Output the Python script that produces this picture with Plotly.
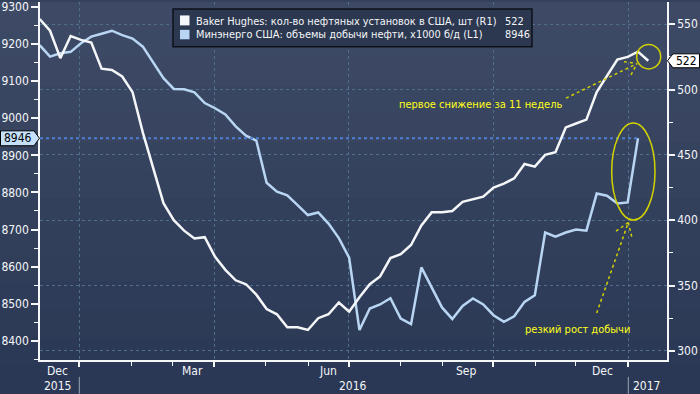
import plotly.graph_objects as go
import pandas as pd

# ---------------- data ----------------
series_names = [
    "Baker Hughes: кол-во нефтяных установок в США, шт (R1)",
    "Минэнерго США: объемы добычи нефти, x1000 б/д (L1)",
]
first_week = "2015-11-27"
# Baker Hughes oil rigs, weekly (right axis)
rig_count = [554, 545, 524, 541, 538, 536, 516, 515, 510, 498,
             467, 439, 413, 400, 392, 386, 387, 372, 362, 354,
             351, 343, 332, 328, 318, 318, 316, 325, 328, 337,
             330, 341, 351, 357, 371, 374, 381, 396, 406, 406,
             407, 414, 416, 418, 425, 428, 432, 443, 441, 450,
             452, 471, 474, 477, 498, 510, 523, 525, 529, 522]
# EIA weekly crude output, thousand b/d (left axis)
oil_output = [9197, 9166, 9175, 9179, 9202, 9220, 9228, 9236, 9224, 9215,
              9193, 9152, 9108, 9079, 9078, 9070, 9041, 9027, 9010, 8978,
              8953, 8940, 8826, 8802, 8792, 8766, 8739, 8746, 8716, 8677,
              8624, 8429, 8487, 8498, 8515, 8460, 8445, 8598, 8545, 8490,
              8459, 8494, 8514, 8498, 8469, 8451, 8466, 8505, 8523, 8692,
              8681, 8692, 8700, 8697, 8797, 8791, 8770, 8773, 8946]
month_labels = ["Dec", "Mar", "Jun", "Sep", "Dec"]
year_labels = ["2015", "2016", "2017"]
note_labels = ["первое снижение за 11 недель", "резкий рост добычи"]
left_ticks = list(range(8400, 9301, 100))
right_ticks = list(range(300, 551, 50))

rig_dates = pd.date_range(first_week, periods=len(rig_count), freq="7D")
oil_dates = pd.date_range(first_week, periods=len(oil_output), freq="7D")

# ---------------- geometry helpers ----------------
W, H = 700, 394
L, R, T, B = 40, 667, 0, 360
def px(x): return (x - L) / (R - L)
def py(y): return (B - y) / (B - T)

base = pd.Timestamp(first_week)
WEEK_PX = 10.315
FIRST_PX = 39.7
def pdate(x):
    return base + pd.Timedelta(days=(x - FIRST_PX) * 7 / WEEK_PX)

FONT = "DejaVu Sans Condensed, Liberation Sans Narrow, DejaVu Sans"
WHITE = "#f4f6f8"
BLUE = "#b8d6f3"
YEL = "#ffff1a"
YEL_LINE = "#d2d200"
GRID = "#4f6e89"

major_px = [79.3, 214.3, 348.7, 493.3, 628.3]
minor_px = [131.7, 172.8, 265.6, 308.0, 400.4, 442.0, 535.7, 575.9]
month_px = [57, 192, 328, 466.5, 602]
year_px = [57, 352.7, 646.4]

fig = go.Figure()

fig.add_trace(go.Scatter(
    x=oil_dates, y=oil_output, mode="lines", yaxis="y",
    line=dict(color=BLUE, width=2.5), hoverinfo="skip"))
fig.add_trace(go.Scatter(
    x=[pdate(L), oil_dates[-1]], y=[oil_output[-1], oil_output[-1]],
    mode="lines", yaxis="y",
    line=dict(color="#4d7fd6", width=2, dash="dot"), hoverinfo="skip"))
fig.add_trace(go.Scatter(
    x=rig_dates, y=rig_count, mode="lines", yaxis="y2",
    line=dict(color=WHITE, width=2.5), hoverinfo="skip"))

shapes = []
# background gradient bands
top_c = (0x3e, 0x4a, 0x65)
bot_c = (0x2a, 0x38, 0x55)
n = 14
for i in range(n):
    t = i / (n - 1)
    c = tuple(round(top_c[k] + (bot_c[k] - top_c[k]) * t) for k in range(3))
    y0p = i * H / n
    y1p = (i + 1) * H / n
    shapes.append(dict(type="rect", xref="paper", yref="paper",
                       x0=px(0), x1=px(W), y0=py(y1p + 0.5), y1=py(y0p),
                       fillcolor="rgb(%d,%d,%d)" % c, line=dict(width=0),
                       layer="below"))
# year separators
for xs in (major_px[0], major_px[-1]):
    shapes.append(dict(type="line", xref="paper", yref="paper",
                       x0=px(xs), x1=px(xs), y0=py(377), y1=py(394),
                       line=dict(color="#9aa3b3", width=1)))
# legend box
shapes.append(dict(type="rect", xref="paper", yref="paper",
                   x0=px(173), x1=px(532), y0=py(45), y1=py(7),
                   fillcolor="#2c3850", line=dict(color="#0d1018", width=1.5)))
shapes.append(dict(type="rect", xref="paper", yref="paper",
                   x0=px(180), x1=px(189.5), y0=py(23.5), y1=py(13.5),
                   fillcolor=WHITE, line=dict(width=0)))
shapes.append(dict(type="rect", xref="paper", yref="paper",
                   x0=px(180), x1=px(189.5), y0=py(37.5), y1=py(28),
                   fillcolor=BLUE, line=dict(width=0)))
# value tags on the axes
v = oil_output[-1]
hh = 7.5 / 0.373
shapes.append(dict(type="path", xref="paper", yref="y",
                   path="M %f %f L %f %f L %f %f L %f %f L %f %f Z" % (
                       px(0.5), v + hh, px(34), v + hh, px(39.5), v,
                       px(34), v - hh, px(0.5), v - hh),
                   fillcolor="#c4e0fb", line=dict(color="#000000", width=1)))
r = rig_count[-1]
hr = 7 / 1.314
shapes.append(dict(type="path", xref="paper", yref="y2",
                   path="M %f %f L %f %f L %f %f L %f %f L %f %f Z" % (
                       px(667.5), r, px(673), r + hr, px(699.5), r + hr,
                       px(699.5), r - hr, px(673), r - hr),
                   fillcolor="#ffffff", line=dict(color="#000000", width=1)))
# highlight circle & ellipse
shapes.append(dict(type="circle", xref="paper", yref="paper",
                   x0=px(636.7), x1=px(660.7), y0=py(67.3), y1=py(42.7),
                   line=dict(color=YEL_LINE, width=1.5)))
shapes.append(dict(type="circle", xref="paper", yref="paper",
                   x0=px(611.7), x1=px(655), y0=py(219.3), y1=py(121.7),
                   line=dict(color=YEL_LINE, width=1.5)))
# dotted arrows
arrow_lines = [
    ((566, 96.7), (637, 62)), ((624, 60), (637, 62)), ((631, 73.3), (637, 62)),
    ((596.7, 312.7), (628.3, 221.7)), ((616, 230.5), (628.3, 221.7)),
    ((631.7, 236), (628.3, 221.7)),
]
for (xa, ya), (xb, yb) in arrow_lines:
    shapes.append(dict(type="line", xref="paper", yref="paper",
                       x0=px(xa), y0=py(ya), x1=px(xb), y1=py(yb),
                       line=dict(color=YEL_LINE, width=1.5, dash="dot")))

annotations = []
for lab, xp in zip(month_labels, month_px):
    annotations.append(dict(text=lab, xref="paper", yref="paper",
                            x=px(xp), y=py(370.7), xanchor="center", yanchor="middle",
                            showarrow=False, font=dict(family=FONT, size=12, color=WHITE)))
for lab, xp in zip(year_labels, year_px):
    annotations.append(dict(text=lab, xref="paper", yref="paper",
                            x=px(xp), y=py(385.7), xanchor="center", yanchor="middle",
                            showarrow=False, font=dict(family=FONT, size=12, color=WHITE)))
# legend texts
for name, val, yc in ((series_names[0], rig_count[-1], 19.5),
                      (series_names[1], oil_output[-1], 33)):
    annotations.append(dict(text=name, xref="paper", yref="paper",
                            x=px(193.5), y=py(yc), xanchor="left", yanchor="middle",
                            showarrow=False, font=dict(family=FONT, size=10.9, color=WHITE)))
    annotations.append(dict(text=str(val), xref="paper", yref="paper",
                            x=px(503), y=py(yc), xanchor="left", yanchor="middle",
                            showarrow=False, font=dict(family=FONT, size=10.9, color=WHITE)))
# axis value tags text
annotations.append(dict(text=str(oil_output[-1]), xref="paper", yref="y",
                        x=px(17.5), y=oil_output[-1], xanchor="center", yanchor="middle",
                        showarrow=False, font=dict(family=FONT, size=12, color="#000000")))
annotations.append(dict(text=str(rig_count[-1]), xref="paper", yref="y2",
                        x=px(686.5), y=rig_count[-1], xanchor="center", yanchor="middle",
                        showarrow=False, font=dict(family=FONT, size=12, color="#000000")))
# notes
annotations.append(dict(text=note_labels[0], xref="paper", yref="paper",
                        x=px(480), y=py(103), xanchor="center", yanchor="middle",
                        showarrow=False, font=dict(family=FONT, size=11, color=YEL)))
annotations.append(dict(text=note_labels[1], xref="paper", yref="paper",
                        x=px(577.7), y=py(329.3), xanchor="center", yanchor="middle",
                        showarrow=False, font=dict(family=FONT, size=11, color=YEL)))

fig.update_layout(
    width=W, height=H,
    margin=dict(l=L, r=W - R, t=T, b=H - B, pad=0),
    paper_bgcolor="#34415c", plot_bgcolor="rgba(0,0,0,0)",
    showlegend=False,
    shapes=shapes, annotations=annotations,
    xaxis=dict(
        type="date", range=[pdate(L), pdate(R)],
        tickmode="array", tickvals=[pdate(x) for x in major_px],
        showticklabels=False, ticks="outside", ticklen=5, tickwidth=1.5,
        tickcolor=WHITE, showgrid=True, gridcolor=GRID, griddash="3px,3px",
        gridwidth=1, showline=True, linecolor=WHITE, linewidth=1.5,
        zeroline=False,
        minor=dict(tickmode="array", tickvals=[pdate(x) for x in minor_px],
                   ticks="outside", ticklen=4, tickwidth=1, tickcolor=WHITE,
                   showgrid=False),
    ),
    yaxis=dict(
        range=[8348.3, 9313.4], tickmode="array", tickvals=left_ticks,
        ticks="outside", ticklen=7, tickwidth=2, tickcolor=WHITE,
        ticklabeloverflow="allow",
        showgrid=False, zeroline=False, showline=True, linecolor=WHITE,
        linewidth=1.5, tickfont=dict(family=FONT, size=12, color=WHITE),
        minor=dict(tickmode="array", tickvals=[t + 50 for t in left_ticks] + [8350],
                   ticks="outside", ticklen=4, tickwidth=1, tickcolor=WHITE,
                   showgrid=False),
    ),
    yaxis2=dict(
        range=[293.0, 567.0], overlaying="y", side="right",
        tickmode="array", tickvals=right_ticks,
        ticks="outside", ticklen=6, tickwidth=2, tickcolor=WHITE,
        ticklabeloverflow="allow",
        showgrid=True, gridcolor=GRID, griddash="3px,3px", gridwidth=1,
        zeroline=False, showline=True, linecolor=WHITE, linewidth=1.5,
        tickfont=dict(family=FONT, size=12, color=WHITE),
        minor=dict(tickmode="array", tickvals=[t + 25 for t in right_ticks],
                   ticks="outside", ticklen=4, tickwidth=1, tickcolor=WHITE,
                   showgrid=False),
    ),
)

fig.write_html("out.html",
               config={"displayModeBar": False},
               post_script="document.body.style.margin='0';document.body.style.padding='0';")
